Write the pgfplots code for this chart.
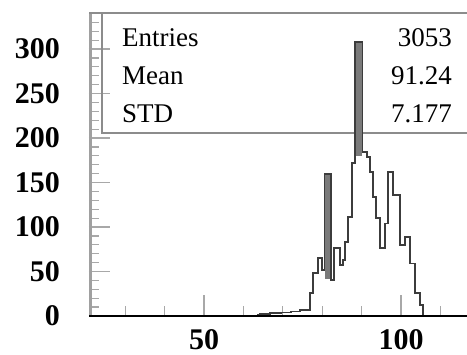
\documentclass[border=0pt]{standalone}
\usepackage{pgfplots}
\pgfplotsset{compat=1.18}
\usepackage{fontspec}
\setmainfont{Liberation Serif}
\definecolor{histline}{HTML}{3C3C3C}
\definecolor{spike}{HTML}{7A7A7A}
\definecolor{framegray}{HTML}{A0A0A0}
\definecolor{boxgray}{HTML}{8C8C8C}
\definecolor{tickgray}{HTML}{A8A8A8}
\begin{document}
\begin{tikzpicture}[x=1pt,y=1pt]
\useasboundingbox (0,0) rectangle (467,355);
\begin{axis}[
  at={(89pt,39pt)}, anchor=south west,
  scale only axis, width=378pt, height=303pt,
  xmin=20.8, xmax=116.75, ymin=0, ymax=340.5,
  axis line style={draw=none},
  xtick={50,100}, minor xtick={30,40,60,70,80,90,110},
  ytick={0,50,...,300}, minor ytick={10,20,...,340},
  tick pos=left, tick align=inside,
  major tick length=21pt, minor tick length=10pt,
  every tick/.style={tickgray, line width=1.2pt},
  /pgf/number format/assume math mode=true,
  ticklabel style={font=\fontsize{30}{30}\selectfont\bfseries, inner sep=0pt},
  yticklabel style={anchor=east, xshift=-29pt},
  xticklabel style={anchor=north, yshift=-13pt},
]
\draw[boxgray, line width=2.5pt] (axis cs:24.1,400) -- (axis cs:24.1,205.5) -- (axis cs:130,205.5);
\addplot[draw=none, fill=spike] coordinates {(80.6,42) (80.6,160) (82.3,160) (82.3,42)} -- cycle;
\addplot[draw=none, fill=spike] coordinates {(88.4,180) (88.4,308) (90.2,308) (90.2,180)} -- cycle;
\addplot[const plot, histline, line width=1.8pt] coordinates {
(63.5,1) (64.2,2) (66.8,3) (69.5,4) (72.0,5) (74.4,7) (76.9,26) (77.7,48)
(78.9,65) (80.0,52) (80.6,160) (82.3,40) (82.9,76) (84.5,57) (85.3,63)
(85.8,83) (86.6,111) (87.6,172) (88.4,308) (90.2,184) (91.4,179) (92.1,162)
(92.9,134) (93.6,110) (94.7,76) (95.9,104) (96.7,162) (98.0,136) (99.7,80)
(101.0,89) (102.3,59) (103.6,26) (104.8,12) (105.6,0)
};
\end{axis}
\draw[framegray, line width=3pt] (90.5,39) -- (90.5,342);
\draw[boxgray, line width=2pt] (89,342) -- (467,342);
\draw[black, line width=2.5pt] (89,39) -- (467,39);
\node[anchor=base west, inner sep=0pt, font=\fontsize{27}{27}\selectfont] at (122,308) {Entries};
\node[anchor=base west, inner sep=0pt, font=\fontsize{27}{27}\selectfont] at (122,270) {Mean};
\node[anchor=base west, inner sep=0pt, font=\fontsize{27}{27}\selectfont] at (122,232) {STD};
\node[anchor=base east, inner sep=0pt, font=\fontsize{27}{27}\selectfont] at (452,308) {3053};
\node[anchor=base east, inner sep=0pt, font=\fontsize{27}{27}\selectfont] at (452,270) {91.24};
\node[anchor=base east, inner sep=0pt, font=\fontsize{27}{27}\selectfont] at (452,232) {7.177};
\end{tikzpicture}
\end{document}
